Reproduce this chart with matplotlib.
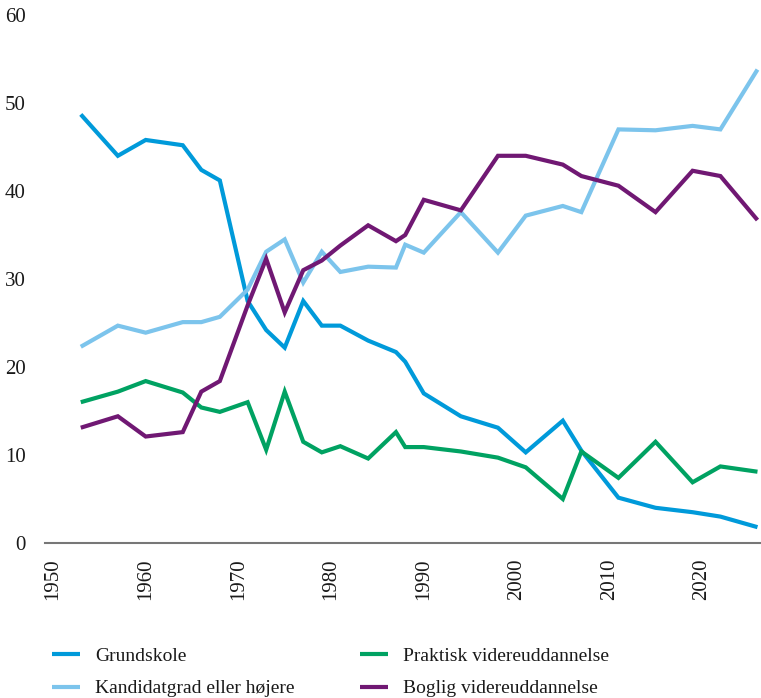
import matplotlib
matplotlib.use("Agg")
import matplotlib.pyplot as plt

years = [1953, 1957, 1960, 1964, 1966, 1968, 1971, 1973, 1975, 1977, 1979, 1981,
         1984, 1987, 1988, 1990, 1994, 1998, 2001, 2005, 2007, 2011, 2015, 2019, 2022, 2026]

grundskole = [48.7, 44.0, 45.8, 45.2, 42.4, 41.2, 27.5, 24.2, 22.2, 27.5, 24.7, 24.7,
              23.0, 21.7, 20.6, 17.0, 14.4, 13.1, 10.3, 13.9, 10.5, 5.15, 4.0, 3.5, 3.0, 1.8]
kandidat = [22.3, 24.7, 23.9, 25.1, 25.1, 25.7, 28.8, 33.1, 34.5, 29.6, 33.1, 30.8,
            31.4, 31.3, 33.9, 33.0, 37.6, 33.0, 37.2, 38.3, 37.6, 47.0, 46.9, 47.4, 47.0, 53.8]
praktisk = [16.0, 17.2, 18.4, 17.1, 15.4, 14.9, 16.0, 10.6, 17.2, 11.5, 10.3, 11.0,
            9.6, 12.6, 10.9, 10.9, 10.4, 9.7, 8.6, 5.0, 10.4, 7.4, 11.5, 6.9, 8.7, 8.1]
boglig = [13.1, 14.4, 12.1, 12.6, 17.2, 18.4, 27.0, 32.3, 26.2, 31.0, 32.1, 33.8,
          36.1, 34.3, 35.0, 39.0, 37.8, 44.0, 44.0, 43.0, 41.7, 40.6, 37.6, 42.3, 41.7, 36.7]

series_labels = ["Grundskole", "Kandidatgrad eller højere",
                 "Praktisk videreuddannelse", "Boglig videreuddannelse"]
colors = ["#009ADA", "#7CC4EC", "#00A262", "#701873"]
y_ticks = [0, 10, 20, 30, 40, 50, 60]
x_ticks = [1950, 1960, 1970, 1980, 1990, 2000, 2010, 2020]

plt.rcParams['font.family'] = ['Liberation Serif', 'DejaVu Serif']

fig = plt.figure(figsize=(7.61, 6.98), dpi=100)
ax = fig.add_axes([45 / 761, 1 - 543 / 698, 716 / 761, 528 / 698])

data = [grundskole, kandidat, praktisk, boglig]
handles = []
for vals, lab, c in zip(data, series_labels, colors):
    h, = ax.plot(years, vals, color=c, lw=3.0, label=lab, solid_joinstyle='miter',
                 solid_capstyle='butt', clip_on=False)
    handles.append(h)

ax.set_xlim(1949.14, 2026.38)
ax.set_ylim(0, 60)
ax.set_xticks(x_ticks)
ax.set_xticklabels([str(t) for t in x_ticks], rotation=90, fontsize=15)
ax.set_yticks(y_ticks)
ax.set_yticklabels([str(t) for t in y_ticks], fontsize=15)
ax.tick_params(axis='both', length=0, colors='#1a1a1a')
ax.tick_params(axis='y', pad=14)
ax.tick_params(axis='x', pad=11)
for s in ['top', 'right', 'left']:
    ax.spines[s].set_visible(False)
ax.spines['bottom'].set_color('#777777')
ax.spines['bottom'].set_linewidth(1.5)

leg_kw = dict(loc='upper left', frameon=False, fontsize=14, handlelength=1.45,
              handletextpad=0.75, labelspacing=0.78, borderaxespad=0, borderpad=0)
l1 = fig.legend([handles[0], handles[1]], [series_labels[0], series_labels[1]],
                bbox_to_anchor=(52 / 761, 1 - 647 / 698), **leg_kw)
l2 = fig.legend([handles[2], handles[3]], [series_labels[2], series_labels[3]],
                bbox_to_anchor=(360 / 761, 1 - 647 / 698), **leg_kw)
for leg in (l1, l2):
    for t in leg.get_texts():
        t.set_color('#1a1a1a')

fig.savefig("out.png", dpi=100)
